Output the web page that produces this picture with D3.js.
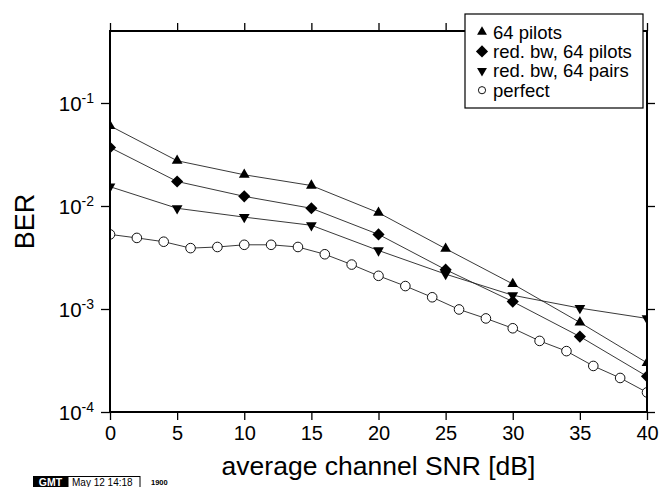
<!DOCTYPE html>
<html><head><meta charset="utf-8">
<script src="https://cdn.jsdelivr.net/npm/d3@7"></script>
<style>
html,body{margin:0;padding:0;background:#fff;}
svg{display:block;font-family:"Liberation Sans",Arial,Helvetica,sans-serif;}
</style></head>
<body><svg id="c" width="662" height="487"></svg>
<script>
// ---- data ----
const snrCoarse = [0, 5, 10, 15, 20, 25, 30, 35, 40];
const snrFine = [0, 2, 4, 6, 8, 10, 12, 14, 16, 18, 20, 22, 24, 26, 28, 30, 32, 34, 36, 38, 40];
const ber64Pilots = [0.060, 0.0275, 0.0201, 0.0158, 0.0086, 0.00385, 0.00175, 0.00074, 0.00030];
const berRedBwPilots = [0.037, 0.0173, 0.0124, 0.0095, 0.0053, 0.00241, 0.00118, 0.00054, 0.000222];
const berRedBwPairs = [0.0154, 0.0095, 0.0078, 0.0065, 0.0037, 0.00218, 0.00136, 0.00102, 0.00081];
const berPerfect = [0.0053, 0.0049, 0.0045, 0.0039, 0.0040, 0.0042, 0.0042, 0.0040, 0.0034, 0.0027, 0.0021,
                    0.00167, 0.0013, 0.00099, 0.00081, 0.00065, 0.00049, 0.00039, 0.00028, 0.000214, 0.000155];
const seriesNames = ["64 pilots", "red. bw, 64 pilots", "red. bw, 64 pairs", "perfect"];
const xTickValues = [0, 5, 10, 15, 20, 25, 30, 35, 40];
const yTickExponents = [-4, -3, -2, -1];
const xTitle = "average channel SNR [dB]";
const yTitle = "BER";
const stampText = ["GMT", "May 12 14:18", "1900"];

// ---- layout ----
const svg = d3.select("#c");
const L = 110, R = 647, T = 31, B = 412;
const x = d3.scaleLinear().domain([0, 40]).range([L, R]);
const y = d3.scaleLog().domain([1e-4, 0.5]).range([B, T]);

const series = [
  {name: seriesNames[0], xs: snrCoarse, ys: ber64Pilots, sym: "up"},
  {name: seriesNames[1], xs: snrCoarse, ys: berRedBwPilots, sym: "diamond"},
  {name: seriesNames[2], xs: snrCoarse, ys: berRedBwPairs, sym: "down"},
  {name: seriesNames[3], xs: snrFine, ys: berPerfect, sym: "circle"}
];

function symPath(kind, scale) {
  scale = scale || 1;
  if (kind === "up" || kind === "down") return d3.symbol(d3.symbolTriangle, 50 * scale * scale)();
  if (kind === "diamond") return d3.symbol(d3.symbolSquare, 74 * scale * scale)();
  return null;
}
function drawSym(g, kind, cx, cy, scale) {
  scale = scale || 1;
  if (kind === "circle") {
    g.append("circle").attr("cx", cx).attr("cy", cy).attr("r", 4.8 * scale)
      .attr("fill", "#fff").attr("stroke", "#111").attr("stroke-width", 1);
  } else {
    const rot = kind === "down" ? 180 : kind === "diamond" ? 45 : 0;
    g.append("path").attr("d", symPath(kind, scale))
      .attr("transform", `translate(${cx},${cy}) rotate(${rot})`)
      .attr("fill", "#000");
  }
}

svg.append("defs").append("clipPath").attr("id", "clip")
  .append("rect").attr("x", L).attr("y", T).attr("width", R - L).attr("height", B - T);

const plot = svg.append("g").attr("clip-path", "url(#clip)");
const line = d3.line().x(d => x(d[0])).y(d => y(d[1]));
series.forEach(s => {
  const pts = s.xs.map((v, i) => [v, s.ys[i]]);
  plot.append("path").attr("d", line(pts)).attr("fill", "none")
    .attr("stroke", "#222").attr("stroke-width", 0.9);
});
series.forEach(s => {
  s.xs.forEach((v, i) => drawSym(plot, s.sym, x(v), y(s.ys[i])));
});

// ---- axes ----
const xAxB = svg.append("g").attr("transform", `translate(0,${B})`)
  .call(d3.axisBottom(x).tickValues(xTickValues).tickSize(8).tickPadding(6).tickFormat(d3.format("d")));
const xAxT = svg.append("g").attr("transform", `translate(0,${T})`)
  .call(d3.axisTop(x).tickValues(xTickValues).tickSize(8).tickFormat(""));
const yTicks = yTickExponents.map(e => Math.pow(10, e));
const yAxL = svg.append("g").attr("transform", `translate(${L},0)`)
  .call(d3.axisLeft(y).tickValues(yTicks).tickSize(9).tickPadding(8).tickFormat(""));
const yAxR = svg.append("g").attr("transform", `translate(${R},0)`)
  .call(d3.axisRight(y).tickValues(yTicks).tickSize(8).tickFormat(""));

[xAxB, xAxT, yAxL, yAxR].forEach(g => {
  g.select(".domain").remove();
  g.selectAll(".tick line").attr("stroke", "#000").attr("stroke-width", 1.3);
});
xAxB.selectAll(".tick text").attr("font-size", 20).attr("fill", "#000")
  .attr("font-family", "'Liberation Sans',Arial,sans-serif");

// y tick labels with superscript
yAxL.selectAll(".tick").each(function(d, i) {
  const t = d3.select(this).select("text");
  t.text(null).attr("font-size", 20.5).attr("fill", "#000").attr("dy", "0.36em")
    .attr("font-family", "'Liberation Sans',Arial,sans-serif");
  t.append("tspan").text("10");
  t.append("tspan").attr("font-size", 14).attr("dy", "-0.55em").text(String(Math.round(Math.log10(d))));
});
yAxL.selectAll(".tick text").attr("x", -16);

// frame
svg.append("rect").attr("x", L).attr("y", T).attr("width", R - L).attr("height", B - T)
  .attr("fill", "none").attr("stroke", "#000").attr("stroke-width", 2);

// titles
svg.append("text").attr("x", (L + R) / 2).attr("y", 475).attr("text-anchor", "middle")
  .attr("font-size", 26.5).attr("fill", "#000").text(xTitle);
svg.append("text").attr("transform", `translate(34,${(T + B) / 2}) rotate(-90)`)
  .attr("text-anchor", "middle").attr("font-size", 27).attr("fill", "#000").text(yTitle);

// legend
const lg = svg.append("g");
const lx = 465, ly = 14, lw = 178, lh = 94;
lg.append("rect").attr("x", lx).attr("y", ly).attr("width", lw).attr("height", lh)
  .attr("fill", "#fff").attr("stroke", "#000").attr("stroke-width", 1.2);
series.forEach((s, i) => {
  const cy = 32 + i * 19.4;
  drawSym(lg, s.sym, 482, cy, s.sym === "circle" ? 0.75 : s.sym === "diamond" ? 1.0 : 0.92);
  lg.append("text").attr("x", 493).attr("y", cy + 6.5).attr("font-size", 18.5)
    .attr("fill", "#000").text(s.name);
});

// GMT time stamp
const st = svg.append("g");
st.append("rect").attr("x", 33).attr("y", 476).attr("width", 35).attr("height", 11).attr("fill", "#000");
st.append("text").attr("x", 50.5).attr("y", 485.5).attr("text-anchor", "middle").attr("font-size", 10.5)
  .attr("font-weight", "bold").attr("fill", "#fff").text(stampText[0]);
st.append("rect").attr("x", 68).attr("y", 476.5).attr("width", 72).attr("height", 11)
  .attr("fill", "none").attr("stroke", "#000").attr("stroke-width", 1);
st.append("text").attr("x", 72).attr("y", 485.5).attr("font-size", 10).attr("fill", "#000").text(stampText[1]);
st.append("text").attr("x", 151).attr("y", 485).attr("font-size", 7.5).attr("font-weight", "bold")
  .attr("fill", "#000").text(stampText[2]);
</script>
</body></html>
